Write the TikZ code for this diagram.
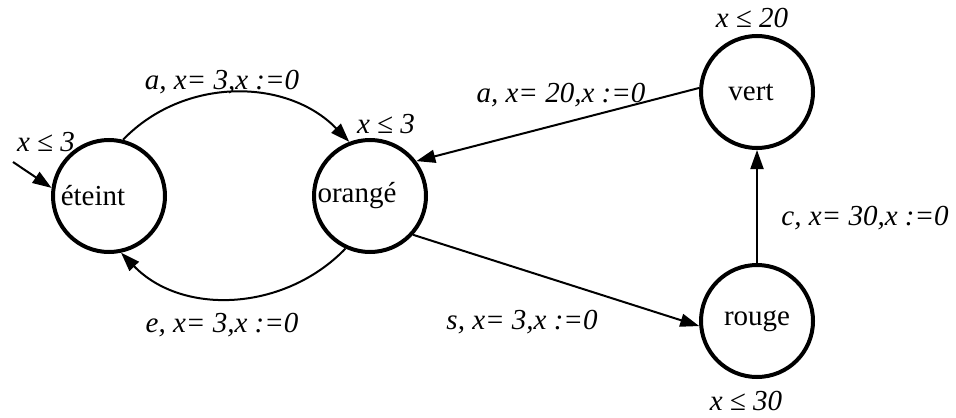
\documentclass[tikz,border=0pt]{standalone}
\usepackage{fontspec}
\setmainfont{Liberation Serif}
\usetikzlibrary{positioning,arrows.meta}

\begin{document}
\begin{tikzpicture}[
				x=0.5pt,
				y=-0.5pt,
				font=\fontsize{14.5}{17}\selectfont,
				state/.style={
				draw,
				circle,
				line width=2pt,
				minimum size=56pt,
				inner sep=0pt
				},
				txtshift/.style={
				execute at begin node={\hspace*{#1}}
				},
				lbl/.style={
				font=\fontsize{14.5}{17}\selectfont\itshape,
				inner sep=0pt
				},
				edge/.style={
				-{Triangle[length=9.5pt,width=6.5pt]},
				line width=1pt
				}
				]
				
				\useasboundingbox (0,0) rectangle (956,417);
				
				% states
				\node[state,txtshift=-16pt] (eteint) at (109,196) {éteint};
				\node[state,txtshift=-13pt] (orange) at (370,196) {orangé};
				\node[state,txtshift=-6pt] (vert) at (757,92) {vert};
				\node[state] (rouge) at (757,321) {rouge};
				
				% invariants
				\node[lbl] (inv-eteint) at (46,142) {x ≤ 3};
				\node[lbl] (inv-orange) at (386,124) {x ≤ 3};
				\node[lbl] (inv-vert) at (752,18) {x ≤ 20};
				\node[lbl] (inv-rouge) at (746,401) {x ≤ 30};
				
				% initial state
				\coordinate (init) at (13,162);
				\draw[edge] (init) -- (eteint.172);
				
				% transitions
				\draw[edge] (eteint.76) to[out=46,in=134] (orange.111);
				\node[lbl] (t-a1) at (222,82) {a, x= 3,x :=0};
				
				\draw[edge] (orange.245) to[out=226,in=314] (eteint.282);
				\node[lbl] (t-e) at (222,325) {e, x= 3,x :=0};
				
				\draw[edge] (vert.176) -- (orange.37);
				\node[lbl] (t-a2) at (561,95) {a, x= 20,x :=0};
				
				\draw[edge] (orange.318) -- (rouge.185);
				\node[lbl] (t-s) at (522,322) {s, x= 3,x :=0};
				
				\draw[edge] (rouge.north) -- (vert.south);
				\node[lbl] (t-c) at (865,218) {c, x= 30,x :=0};
				
			\end{tikzpicture}
\end{document}
